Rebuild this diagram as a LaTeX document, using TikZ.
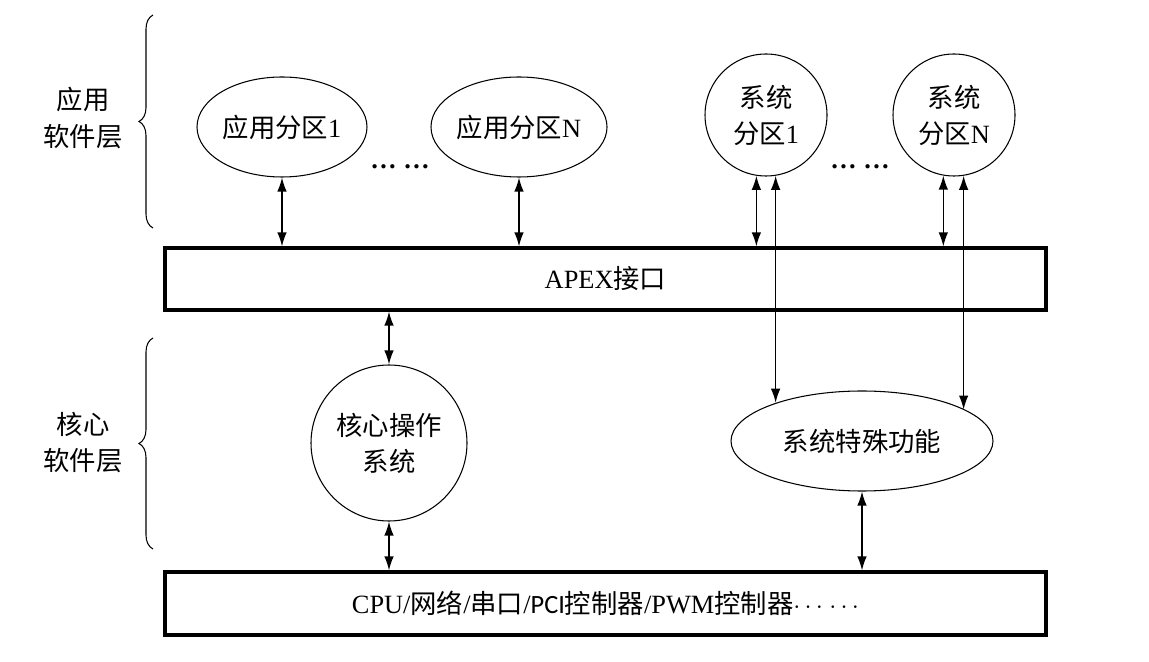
\documentclass[tikz,border=0pt]{standalone}
\usepackage{fontspec}
\setmainfont{Liberation Serif}
\newfontfamily\cjk{Noto Sans CJK SC}
\newfontfamily\pcifont{Carlito}
\usetikzlibrary{arrows.meta,shapes.geometric,decorations.pathreplacing}

\begin{document}
\begin{tikzpicture}[font=\fontsize{15}{20.5}\selectfont]
                \tikzset{part/.style = {shape=ellipse,draw,line width=0.6pt,minimum width=3.4cm,minimum height=2cm,inner sep=0pt}}
                \tikzset{syspart/.style = {shape=circle,draw,line width=0.6pt,minimum size=2.44cm,inner sep=0pt,align=center}}
                \tikzset{layer/.style = {draw,line width=1.8pt,minimum width=17.62cm,minimum height=1.24cm}}
                \tikzset{edge/.style = {<->,> = {Latex[length=2.8mm,width=1.9mm]},line width=0.8pt}}
                \tikzset{brace/.style = {decorate,decoration={brace,amplitude=0.28cm},line width=0.6pt}}
                \useasboundingbox (0,0) rectangle (22.98,13.22);
                % layers
                \node[align=center] (applbl) at (1.66,10.86) {{\cjk 应用}\\{\cjk 软件层}};
                \node[align=center] (corelbl) at (1.66,4.36) {{\cjk 核心}\\{\cjk 软件层}};
                \draw[brace] (3.06,8.66) -- (3.06,12.92);
                \draw[brace] (3.06,2.24) -- (3.06,6.46);
                % partitions
                \node[part] (a1) at (5.64,10.68) {{\cjk 应用分区}1};
                \node[part] (aN) at (10.38,10.68) {{\cjk 应用分区}N};
                \node (d1) at (8.0,9.88) {\bfseries …\ …};
                \node[syspart] (s1) at (15.32,10.92) {{\cjk 系统}\\{\cjk 分区}1};
                \node (d2) at (17.2,9.88) {\bfseries …\ …};
                \node[syspart] (sN) at (19.08,10.92) {{\cjk 系统}\\{\cjk 分区}N};
                \node[layer] (apex) at (12.11,7.64) {APEX{\cjk 接口}};
                % kernel
                \node[syspart, minimum size=3.12cm] (core) at (7.78,4.36) {{\cjk 核心操作}\\{\cjk 系统}};
                \node[part, minimum width=5.24cm] (sp) at (17.24,4.40) {{\cjk 系统特殊功能}};
                \node[layer, minimum height=1.26cm] (hw) at (12.11,1.15) {CPU/{\cjk 网络}/{\cjk 串口}/{\pcifont PCI}{\cjk 控制器}/PWM{\cjk 控制器}$\cdots$\ $\cdots$};

                %edges
                \draw[edge] (a1) to (a1 |- apex.north);
                \draw[edge] (aN) to (aN |- apex.north);
                \draw[edge] (s1.261) to (s1.261 |- apex.north);
                \draw[edge] (s1.279) to (s1.279 |- sp.156.7);
                \draw[edge] (sN.260) to (sN.260 |- apex.north);
                \draw[edge] (sN.279) to (sN.279 |- sp.17.5);
                \draw[edge] (core.north |- apex.south) to (core.north);
                \draw[edge] (core) to (core.south |- hw.north);
                \draw[edge] (sp) to (sp.south |- hw.north);
            \end{tikzpicture}
\end{document}
